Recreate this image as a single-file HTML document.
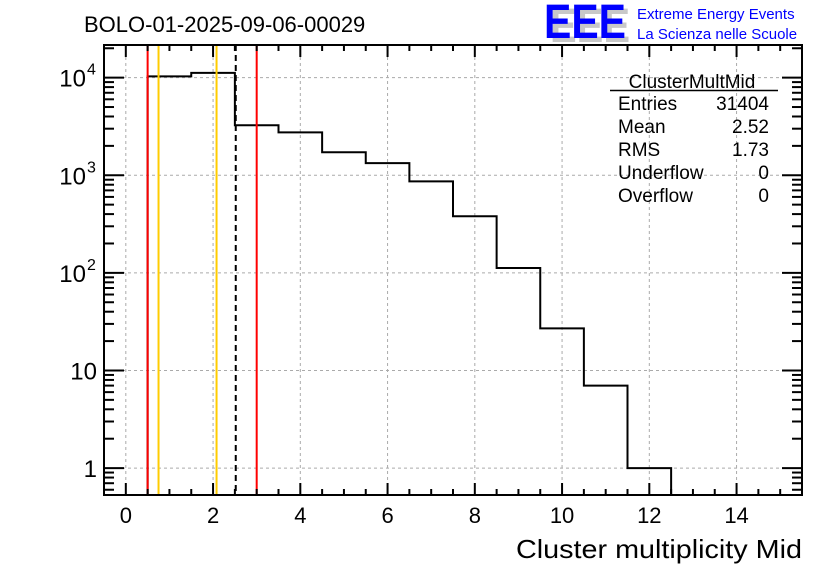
<!DOCTYPE html>
<html><head><meta charset="utf-8"><style>
body{margin:0;background:#fff}
svg{display:block;font-family:"Liberation Sans",sans-serif}
</style></head><body>
<svg id="c" width="836" height="572" viewBox="0 0 836 572">
<text x="84" y="32" font-size="22">BOLO-01-2025-09-06-00029</text>
<g>
<text x="550" y="42" font-size="48" font-weight="bold" fill="#c8c8c8" textLength="80" lengthAdjust="spacingAndGlyphs">EEE</text>
<text x="544" y="38" font-size="48" font-weight="bold" fill="#0000ff" textLength="82" lengthAdjust="spacingAndGlyphs">EEE</text>
<text x="637" y="19" font-size="15" fill="#0000ff">Extreme Energy Events</text>
<text x="637" y="39" font-size="15" fill="#0000ff">La Scienza nelle Scuole</text>
</g>
<g id="grid"></g>
<g id="marks"></g>
<g id="axes"></g>
<g font-size="19">
<text x="692" y="88" text-anchor="middle">ClusterMultMid</text>
<line x1="610" y1="90.5" x2="778" y2="90.5" stroke="#000" stroke-width="1.5"/>
<text x="618" y="110">Entries</text><text x="769" y="110" text-anchor="end">31404</text>
<text x="618" y="133">Mean</text><text x="769" y="133" text-anchor="end">2.52</text>
<text x="618" y="156">RMS</text><text x="769" y="156" text-anchor="end">1.73</text>
<text x="618" y="179">Underflow</text><text x="769" y="179" text-anchor="end">0</text>
<text x="618" y="202">Overflow</text><text x="769" y="202" text-anchor="end">0</text>
</g>
<text x="802" y="558" font-size="26" text-anchor="end" textLength="286" lengthAdjust="spacingAndGlyphs">Cluster multiplicity Mid</text>
</svg>
<script>
const binLow=[0.5,1.5,2.5,3.5,4.5,5.5,6.5,7.5,8.5,9.5,10.5,11.5];
const counts=[10300,11200,3250,2750,1720,1330,865,380,112,27,7,1];
const xTicks=[0,2,4,6,8,10,12,14];
const yTicks=[1,10,100,1000,10000];
const yTickLabels=["1","10","10","10","10"];
const yTickExp=["","","2","3","4"];
const vlines=[{v:0.5,c:"#ff0000",d:""},{v:0.75,c:"#ffcc00",d:""},{v:2.08,c:"#ffcc00",d:""},{v:2.52,c:"#000",d:"6,4"},{v:3.0,c:"#ff0000",d:""}];
const L=104,R=802,T=45,B=495,xmin=-0.5,xmax=15.5,ymin=0.53,ymax=21600;
const X=v=>L+(v-xmin)/(xmax-xmin)*(R-L);
const Y=v=>B-(Math.log10(v)-Math.log10(ymin))/(Math.log10(ymax)-Math.log10(ymin))*(B-T);
const NS="http://www.w3.org/2000/svg";
function mk(p,t,a){const e=document.createElementNS(NS,t);for(const k in a)e.setAttribute(k,a[k]);p.appendChild(e);return e;}
const grid=document.getElementById('grid'),marks=document.getElementById('marks'),axes=document.getElementById('axes');
xTicks.forEach(t=>{const g=mk(grid,'line',{x1:X(t),x2:X(t),y1:T,y2:B,stroke:'#aaa','stroke-dasharray':'3,3'});

});
yTicks.forEach(t=>{const g=mk(grid,'line',{x1:L,x2:R,y1:Y(t),y2:Y(t),stroke:'#aaa','stroke-dasharray':'3,3'});

});
let d=`M${X(binLow[0])},${B}`;
binLow.forEach((lo,i)=>{d+=` L${X(lo)},${Y(counts[i])} L${X(lo+1)},${Y(counts[i])}`;});
d+=` L${X(binLow[binLow.length-1]+1)},${B}`;
const h=mk(marks,'path',{d:d,fill:'none',stroke:'#000','stroke-width':2});


vlines.forEach(v=>{const l=mk(marks,'line',{x1:X(v.v),x2:X(v.v),y1:T,y2:B,stroke:v.c,'stroke-width':2,'stroke-dasharray':v.d});

});
const fr=mk(axes,'rect',{x:L,y:T,width:R-L,height:B-T,fill:'none',stroke:'#000','stroke-width':2});


for(let v=-0.5;v<=15.5;v+=0.5){const maj=Number.isInteger(v/2)&&v>=0;const len=maj?12:6;
mk(axes,'line',{x1:X(v),x2:X(v),y1:B,y2:B-len,stroke:'#000','stroke-width':2});
mk(axes,'line',{x1:X(v),x2:X(v),y1:T,y2:T+len,stroke:'#000','stroke-width':2});}
xTicks.forEach(t=>{const tx=mk(axes,'text',{x:X(t),y:523,'font-size':22,'text-anchor':'middle'});tx.textContent=t;

});
for(let e=-1;e<=4;e++){for(let m=1;m<10;m++){const v=m*Math.pow(10,e);if(v<ymin||v>ymax)continue;const len=m==1?20:10;
mk(axes,'line',{x1:L,x2:L+len,y1:Y(v),y2:Y(v),stroke:'#000','stroke-width':2});
mk(axes,'line',{x1:R,x2:R-len,y1:Y(v),y2:Y(v),stroke:'#000','stroke-width':2});}}
yTicks.forEach((t,i)=>{const ex=yTickExp[i];const tx=mk(axes,'text',{x:ex?86:97,y:Y(t)+9,'font-size':24,'text-anchor':'end'});tx.textContent=yTickLabels[i];


if(ex){const s=mk(axes,'text',{x:87,y:Y(t)-3,'font-size':16});s.textContent=ex;}});
</script>
</body></html>
